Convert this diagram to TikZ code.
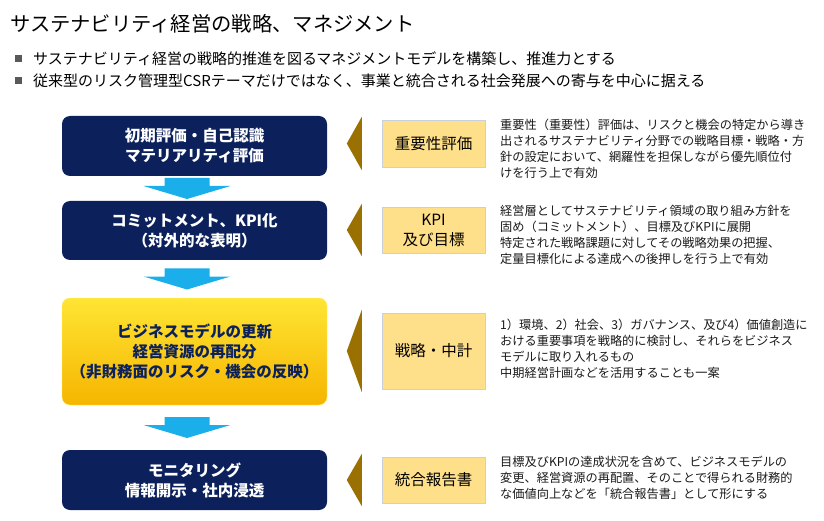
\documentclass[tikz,border=0pt]{standalone}
\usepackage{fontspec}
\setmainfont{Noto Sans CJK JP}
\usetikzlibrary{calc}

\definecolor{navyblue}{HTML}{0C215C}
\definecolor{flowblue}{HTML}{1AAFEA}
\definecolor{darkgold}{HTML}{9A7000}
\definecolor{tagfill}{HTML}{FFE08A}
\definecolor{tagline}{HTML}{C8D0DC}
\definecolor{yolktop}{HTML}{FFE534}
\definecolor{yolkbot}{HTML}{F5B500}
\definecolor{bulletgray}{HTML}{595959}

\begin{document}
\begin{tikzpicture}[x=1pt, y=-1pt,
		stepbox/.style={fill=navyblue, rounded corners=8pt, minimum width=265pt,
			align=center, text=white, inner sep=0pt,
			font=\fontsize{15.5}{20}\selectfont\bfseries},
		keybox/.style={stepbox, fill=none, top color=yolktop, bottom color=yolkbot,
			draw=yolktop!70!white, text=navyblue},
		tagbox/.style={fill=tagfill, draw=tagline, minimum width=103pt,
			align=center, inner sep=0pt, font=\fontsize{15.5}{20}\selectfont},
		desc/.style={anchor=west, align=left, inner sep=0pt, text=black!90,
			font=\fontsize{12.2}{16}\selectfont},
		flowarrow/.style={fill=flowblue},
		goldtri/.style={fill=darkgold},
		bulletsq/.style={fill=bulletgray, minimum size=7pt, inner sep=0pt}]
	
	\useasboundingbox (0,0) rectangle (824,521);
	
	% title and bullets
	\node[anchor=west, inner sep=0pt, font=\fontsize{20.3}{24}\selectfont] (title) at (10,24)
	{サステナビリティ経営の戦略、マネジメント};
	\node[bulletsq] (q1) at (18.5,59) {};
	\node[bulletsq] (q2) at (18.5,81) {};
	\node[anchor=west, inner sep=0pt, font=\fontsize{15}{18}\selectfont] (b1) at (33,59)
	{サステナビリティ経営の戦略的推進を図るマネジメントモデルを構築し、推進力とする};
	\node[anchor=west, inner sep=0pt, font=\fontsize{15}{18}\selectfont] (b2) at (33,81)
	{従来型のリスク管理型CSRテーマだけではなく、事業と統合される社会発展への寄与を中心に据える};
	
	% steps
	\node[stepbox, minimum height=60pt] (s1) at (194.5,146) {初期評価・自己認識\\マテリアリティ評価};
	\node[stepbox, minimum height=59pt] (s2) at (194.5,230.5) {コミットメント、KPI化\\（対外的な表明）};
	\node[keybox, minimum height=107pt] (s3) at (194.5,351.5)
	{ビジネスモデルの更新\\経営資源の再配分\\（非財務面のリスク・機会の反映）};
	\node[stepbox, minimum height=60pt] (s4) at (194.5,480) {モニタリング\\情報開示・社内浸透};
	
	\foreach \a/\b in {s1/s2,s2/s3,s3/s4} {
		\path ($(\a.south)!.5!(\b.north)+(-7.5,0)$) coordinate (m);
		\fill[flowarrow, shift={(m)}] (-22.5,-10.5) -- (22.5,-10.5) -- (22.5,-2.5)
		-- (43.5,-2.5) -- (0,10.5) -- (-43.5,-2.5) -- (-22.5,-2.5) -- cycle;
	}
	
	% tags
	\node[tagbox, minimum height=47pt] (l1) at (433.5,143.5) {重要性評価};
	\node[tagbox, minimum height=46pt] (l2) at (433.5,230) {KPI\\及び目標};
	\node[tagbox, minimum height=76pt] (l3) at (433.5,351) {戦略・中計};
	\node[tagbox, minimum height=46pt] (l4) at (433.5,480) {統合報告書};
	
	\foreach \t in {l1,l2,l3,l4}
	\fill[goldtri] ($(\t.north west)+(-20,-3)$) -- ($(\t.south west)+(-20,3)$)
	-- ($(\t.west)+(-35,0)$) -- cycle;
	
	% descriptions
	\node[desc] (d1) at (500,149) {重要性（重要性）評価は、リスクと機会の特定から導き\\
		出されるサステナビリティ分野での戦略目標・戦略・方\\
		針の設定において、網羅性を担保しながら優先順位付\\
		けを行う上で有効};
	\node[desc] (d2) at (500,234.5) {経営層としてサステナビリティ領域の取り組み方針を\\
		固め（コミットメント）、目標及びKPIに展開\\
		特定された戦略課題に対してその戦略効果の把握、\\
		定量目標化による達成への後押しを行う上で有効};
	\node[desc] (d3) at (500,349) {1）環境、2）社会、3）ガバナンス、及び4）価値創造に\\
		おける重要事項を戦略的に検討し、それらをビジネス\\
		モデルに取り入れるもの\\
		中期経営計画などを活用することも一案};
	\node[desc] (d4) at (500,477.5) {目標及びKPIの達成状況を含めて、ビジネスモデルの\\
		変更、経営資源の再配置、そのことで得られる財務的\\
		な価値向上などを「統合報告書」として形にする};
	
\end{tikzpicture}
\end{document}
